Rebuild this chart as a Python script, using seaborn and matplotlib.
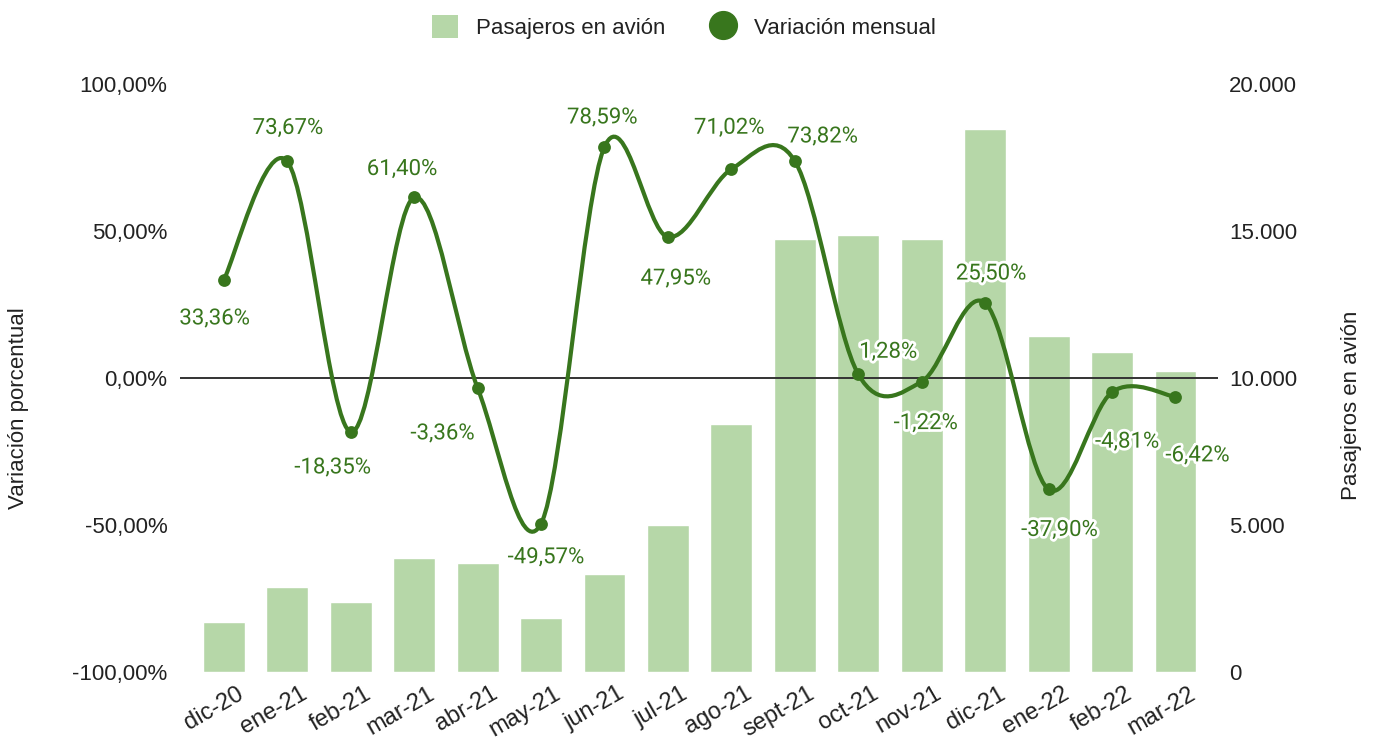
import numpy as np
import pandas as pd
import matplotlib
matplotlib.use("Agg")
import matplotlib.pyplot as plt
import matplotlib.patheffects as pe
import matplotlib.transforms as mtransforms
from matplotlib.path import Path
from matplotlib.patches import PathPatch, Patch
from matplotlib.lines import Line2D
import seaborn as sns

# --- datos ---
meses = ["dic-20", "ene-21", "feb-21", "mar-21", "abr-21", "may-21", "jun-21", "jul-21",
         "ago-21", "sept-21", "oct-21", "nov-21", "dic-21", "ene-22", "feb-22", "mar-22"]
pasajeros = [1700, 2890, 2380, 3880, 3710, 1840, 3330, 5000,
             8440, 14730, 14860, 14730, 18470, 11430, 10880, 10240]
variacion = [33.36, 73.67, -18.35, 61.40, -3.36, -49.57, 78.59, 47.95,
             71.02, 73.82, 1.28, -1.22, 25.50, -37.90, -4.81, -6.42]

# desplazamiento de etiquetas (px)
lab_dx = [-9, 1, -18, -12, -35, 5, -2, 8, -2, 28, 30, 4, 6, 11, 15, 22]
lab_dy = [39, -33, 36, -28, 46, 34, -29, 42, -41, -24, -22, 42, -29, 41, 50, 59]

BAR_COLOR = "#b6d7a8"
LINE_COLOR = "#38761d"
TEXT_COLOR = "#222222"

sns.set_theme(style="white")
plt.rcParams["font.family"] = ["Liberation Sans", "DejaVu Sans"]

df = pd.DataFrame({"mes": meses, "pasajeros": pasajeros, "variacion": variacion})

fig = plt.figure(figsize=(13.78, 7.49), dpi=100)
ax = fig.add_axes([180 / 1378, 1 - 672 / 749, (1218 - 180) / 1378, (672 - 84) / 749])

# barras (eje derecho)
sns.barplot(data=df, x="mes", y="pasajeros", color=BAR_COLOR, saturation=1,
            width=0.66, ax=ax, zorder=1)
ax.set_ylim(0, 20000)
ax.set_xlim(-0.69, 15.67)
ax.set_xlabel("")
ax.set_ylabel("")

# linea (eje izquierdo)
ax2 = ax.twinx()
ax2.set_ylim(-100, 100)

ax.yaxis.tick_right()
ax.set_yticks([0, 5000, 10000, 15000, 20000])
ax.set_yticklabels(["0", "5.000", "10.000", "15.000", "20.000"])
ax.tick_params(axis="y", length=0, pad=8, labelsize=16, labelcolor=TEXT_COLOR)
ax.tick_params(axis="x", length=0, pad=4, labelsize=17, labelcolor=TEXT_COLOR)
shift = mtransforms.ScaledTranslation(13 / 100, -5 / 100, fig.dpi_scale_trans)
for t in ax.get_xticklabels():
    t.set_rotation(30)
    t.set_ha("right")
    t.set_va("top")
    t.set_rotation_mode("anchor")
    t.set_transform(t.get_transform() + shift)

ax2.yaxis.tick_left()
ax2.set_yticks([-100, -50, 0, 50, 100])
ax2.set_yticklabels(["-100,00%", "-50,00%", "0,00%", "50,00%", "100,00%"])
ax2.tick_params(axis="y", length=0, pad=9, labelsize=16, labelcolor=TEXT_COLOR)
for a in (ax, ax2):
    for s in a.spines.values():
        s.set_visible(False)
ax2.axhline(0, color="#333333", lw=1.4, zorder=2)

# curva suavizada (Catmull-Rom como bezier)
x = np.arange(len(variacion), dtype=float)
y = np.array(variacion, dtype=float)
n = len(y)
verts = [(x[0], y[0])]
codes = [Path.MOVETO]
for i in range(n - 1):
    y_prev = y[i - 1] if i > 0 else y[i]
    y_next2 = y[i + 2] if i + 2 < n else y[i + 1]
    x_prev = x[i - 1] if i > 0 else x[i]
    x_next2 = x[i + 2] if i + 2 < n else x[i + 1]
    c1 = (x[i] + (x[i + 1] - x_prev) / 6, y[i] + (y[i + 1] - y_prev) / 6)
    c2 = (x[i + 1] - (x_next2 - x[i]) / 6, y[i + 1] - (y_next2 - y[i]) / 6)
    verts += [c1, c2, (x[i + 1], y[i + 1])]
    codes += [Path.CURVE4, Path.CURVE4, Path.CURVE4]
ax2.add_patch(PathPatch(Path(verts, codes), fill=False, edgecolor=LINE_COLOR, lw=3, zorder=3))

sns.scatterplot(x=x, y=y, color=LINE_COLOR, s=85, edgecolor=LINE_COLOR, linewidth=0,
                ax=ax2, zorder=4, legend=False)

halo = [pe.withStroke(linewidth=4, foreground="white")]
for xi, yi, dx, dy in zip(x, y, lab_dx, lab_dy):
    txt = f"{yi:.2f}".replace(".", ",") + "%"
    ax2.annotate(txt, (xi, yi), xytext=(dx * 0.72, -dy * 0.72), textcoords="offset points",
                 ha="center", va="center", fontsize=16, color=LINE_COLOR,
                 fontfamily=["Roboto", "DejaVu Sans"], path_effects=halo, zorder=5)

# titulos de ejes
fig.text(19 / 1378, 1 - 408 / 749, "Variación porcentual", rotation=90, ha="center",
         va="center", fontsize=16, color=TEXT_COLOR)
fig.text(1352 / 1378, 1 - 405 / 749, "Pasajeros en avión", rotation=90, ha="center",
         va="center", fontsize=16, color=TEXT_COLOR)

# leyenda
handles = [Patch(facecolor=BAR_COLOR, edgecolor="none", label="Pasajeros en avión"),
           Line2D([], [], color=LINE_COLOR, marker="o", lw=0, markersize=20,
                  label="Variación mensual")]
fig.legend(handles=handles, loc="center", bbox_to_anchor=(684 / 1378, 1 - 27 / 749), ncol=2,
           frameon=False, fontsize=16, handlelength=1.2, handleheight=1.2,
           columnspacing=2.0, handletextpad=0.8, labelcolor=TEXT_COLOR)

fig.savefig("out.png", dpi=100)
